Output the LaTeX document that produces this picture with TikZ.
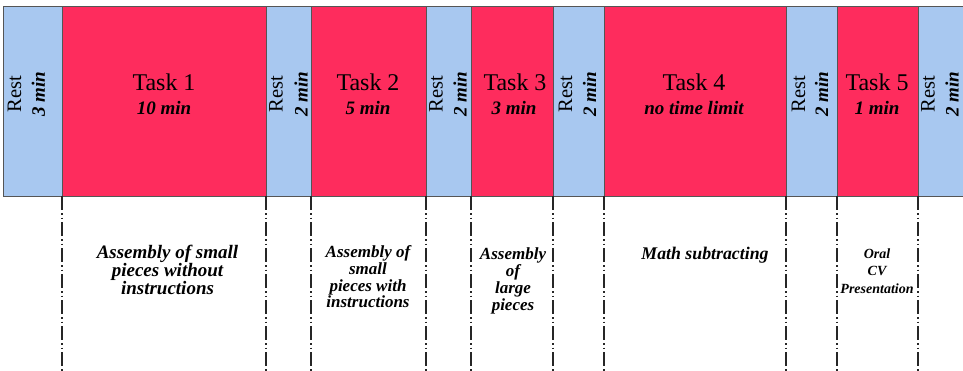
\documentclass[tikz,border=0pt]{standalone}
\usepackage{fontspec}
\setmainfont{Liberation Serif}
\definecolor{taskred}{RGB}{254,44,93}
\definecolor{restblue}{RGB}{168,200,240}
\definecolor{edgegray}{RGB}{85,85,85}
\begin{document}
\begin{tikzpicture}[x=1pt,y=-1pt,
  restbox/.style={fill=restblue,draw=edgegray,line width=0.7pt},
  taskbox/.style={fill=taskred,draw=edgegray,line width=0.7pt},
  sepline/.style={line width=1.1pt,draw=black!85,
    dash pattern=on 14pt off 3pt on 1.5pt off 3pt on 1.5pt off 3pt},
  tasktitle/.style={inner sep=0pt,font=\fontsize{24}{26}\selectfont},
  taskdur/.style={inner sep=0pt,font=\fontsize{19}{21}\selectfont\bfseries\itshape},
  restword/.style={inner sep=0pt,rotate=90,font=\fontsize{20.5}{22}\selectfont},
  restdur/.style={inner sep=0pt,rotate=90,font=\fontsize{19}{21}\selectfont\bfseries\itshape},
  desc/.style={inner sep=0pt,align=center,font=\bfseries\itshape}]
\useasboundingbox (0,0) rectangle (963,370);
\fill[white] (0,0) rectangle (963,370);

% bands
\path[restbox] (3,6) rectangle (62,196);
\path[taskbox] (62,6) rectangle (266,196);
\path[restbox] (266,6) rectangle (311,196);
\path[taskbox] (311,6) rectangle (426,196);
\path[restbox] (426,6) rectangle (471,196);
\path[taskbox] (471,6) rectangle (553,196);
\path[restbox] (553,6) rectangle (604,196);
\path[taskbox] (604,6) rectangle (786,196);
\path[restbox] (786,6) rectangle (837,196);
\path[taskbox] (837,6) rectangle (918,196);
\path[restbox] (918,6) rectangle (966,196);

% separators
\foreach \x [count=\i] in {62,266,311,426,471,553,604,786,837,918} {
  \coordinate (top\i) at (\x,196);
  \coordinate (bot\i) at (\x,372);
  \draw[sepline] (top\i) -- (bot\i);
}

% rest labels
\node[restword] (r1a) at (14.5,94) {Rest};
\node[restdur]  (r1b) at (38.5,94) {3 min};
\node[restword] (r2a) at (276,94) {Rest};
\node[restdur]  (r2b) at (301,94) {2 min};
\node[restword] (r3a) at (436,94) {Rest};
\node[restdur]  (r3b) at (460,94) {2 min};
\node[restword] (r4a) at (565.5,94) {Rest};
\node[restdur]  (r4b) at (589.5,94) {2 min};
\node[restword] (r5a) at (798.5,94) {Rest};
\node[restdur]  (r5b) at (821.5,94) {2 min};
\node[restword] (r6a) at (928,94) {Rest};
\node[restdur]  (r6b) at (952,94) {2 min};

% task labels
\node[tasktitle] (t1) at (164,82) {Task 1};
\node[taskdur]   (d1) at (164,108) {10 min};
\node[tasktitle] (t2) at (368,82) {Task 2};
\node[taskdur]   (d2) at (368,108) {5 min};
\node[tasktitle] (t3) at (515,82) {Task 3};
\node[taskdur]   (d3) at (514,108) {3 min};
\node[tasktitle] (t4) at (694,82) {Task 4};
\node[taskdur]   (d4) at (694,108) {no time limit};
\node[tasktitle] (t5) at (877,82) {Task 5};
\node[taskdur]   (d5) at (877,108) {1 min};

% descriptions
\node[desc,font=\fontsize{19}{17}\selectfont\bfseries\itshape] (x1) at (167.5,270)
  {Assembly of small\\pieces without\\instructions};
\node[desc,font=\fontsize{17}{16.7}\selectfont\bfseries\itshape] (x2) at (368,277)
  {Assembly of\\small\\pieces with\\instructions};
\node[desc,font=\fontsize{17}{17}\selectfont\bfseries\itshape] (x3) at (513,281)
  {Assembly\\of\\large\\pieces};
\node[desc,font=\fontsize{17.8}{18}\selectfont\bfseries\itshape] (x4) at (705,255)
  {Math subtracting};
\node[desc,font=\fontsize{14}{17.5}\selectfont\bfseries\itshape] (x5) at (877,271)
  {Oral\\CV\\Presentation};
\end{tikzpicture}
\end{document}
